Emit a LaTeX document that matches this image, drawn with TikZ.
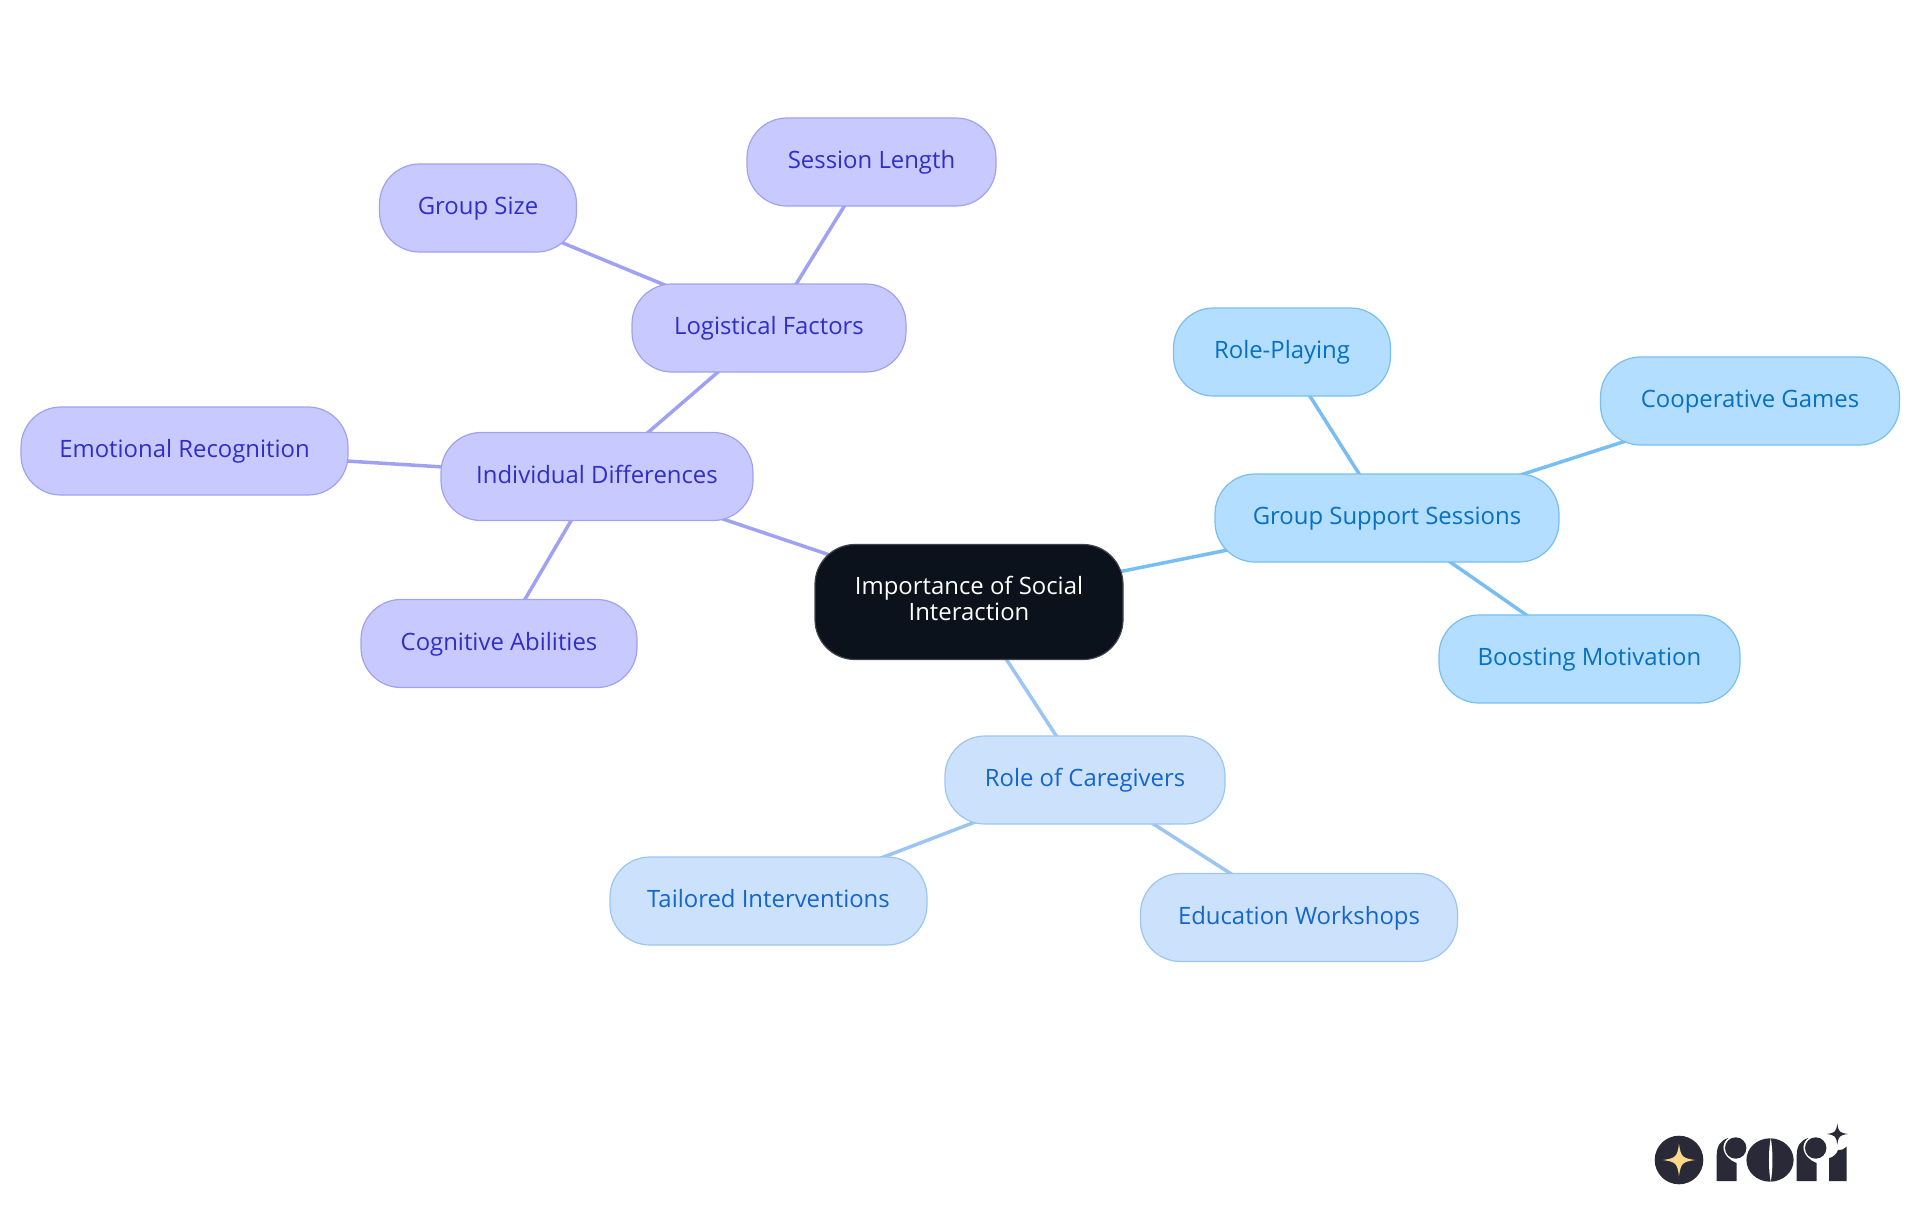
\documentclass[tikz,border=0pt]{standalone}
\usepackage{fontspec}
\setmainfont{Open Sans}
\usepackage{xcolor}
\definecolor{RootInk}{HTML}{0B121B}
\definecolor{RootEdge}{HTML}{3F444B}
\definecolor{VioletFill}{HTML}{C8C9FE}
\definecolor{VioletEdge}{HTML}{9FA2F3}
\definecolor{VioletText}{HTML}{2F2FC8}
\definecolor{SkyFill}{HTML}{B3DEFF}
\definecolor{SkyEdge}{HTML}{78BEF3}
\definecolor{SkyText}{HTML}{0570C4}
\definecolor{PaleFill}{HTML}{CCE2FC}
\definecolor{PaleEdge}{HTML}{9CC5F3}
\definecolor{PaleText}{HTML}{1465CC}
\definecolor{LogoInk}{HTML}{2A2937}
\definecolor{LogoStar}{HTML}{FBD98A}
\usepackage{tikz}
\usetikzlibrary{backgrounds, calc}
\tikzset{
  mapbox/.style={rectangle, rounded corners=40pt, line width=1.2pt, inner sep=0pt, minimum height=88pt, align=center, font=\fontsize{23.9}{26}\selectfont},
  rootbox/.style={mapbox, draw=RootEdge, fill=RootInk, text=white, minimum width=308pt, minimum height=115pt, text height=42pt, text depth=5.6pt},
  leafbox/.style={mapbox, text height=18pt, text depth=5pt},
  violetbox/.style={leafbox, draw=VioletEdge, fill=VioletFill, text=VioletText},
  skybox/.style={leafbox, draw=SkyEdge, fill=SkyFill, text=SkyText},
  palebox/.style={leafbox, draw=PaleEdge, fill=PaleFill, text=PaleText},
  violetline/.style={line width=3.5pt, VioletEdge},
  skyline/.style={line width=3.5pt, SkyEdge},
  paleline/.style={line width=3.5pt, PaleEdge},
  logofill/.style={fill=LogoInk, draw=none}
}
% four pointed star: centre, radius, colour
\newcommand{\logostar}[3]{
  \fill[#3] ($(#1)+(0,-#2)$) .. controls ($(#1)+(0.12*#2,-0.2*#2)$) and ($(#1)+(0.2*#2,-0.12*#2)$) .. ($(#1)+(#2,0)$)
    .. controls ($(#1)+(0.2*#2,0.12*#2)$) and ($(#1)+(0.12*#2,0.2*#2)$) .. ($(#1)+(0,#2)$)
    .. controls ($(#1)+(-0.12*#2,0.2*#2)$) and ($(#1)+(-0.2*#2,0.12*#2)$) .. ($(#1)+(-#2,0)$)
    .. controls ($(#1)+(-0.2*#2,-0.12*#2)$) and ($(#1)+(-0.12*#2,-0.2*#2)$) .. cycle;
}
% logo letter r, left edge of the stem given
\newcommand{\logor}[1]{
  \fill[logofill] (#1,1181) -- (#1,1155) .. controls (#1,1146) and (#1+4,1140) .. (#1+11.7,1138) .. controls (#1+4,1143) and (#1+4,1157) .. (#1+20,1163) -- (#1+20,1181) -- cycle;
  \fill[logofill] (#1+19,1148) circle[radius=10.7pt];
}
\begin{document}
\begin{tikzpicture}[x=1pt, y=-1pt]
  \useasboundingbox (0,0) rectangle (1920,1215);
  \node[rootbox] (root) at (969,602) {Importance of Social\\Interaction};
  % violet branch
  \node[violetbox, minimum width=312pt] (indiv) at (597,476.5) {Individual Differences};
  \node[violetbox, minimum width=327pt] (emotion) at (184.5,451) {Emotional Recognition};
  \node[violetbox, minimum width=276pt] (cognitive) at (499,643.5) {Cognitive Abilities};
  \node[violetbox, minimum width=274pt] (logistic) at (769,328) {Logistical Factors};
  \node[violetbox, minimum width=197pt] (groupsize) at (478,208) {Group Size};
  \node[violetbox, minimum width=249pt] (session) at (871.5,162) {Session Length};
  % sky branch
  \node[skybox, minimum width=344pt] (support) at (1387,518) {Group Support Sessions};
  \node[skybox, minimum width=217pt] (roleplay) at (1282,352) {Role-Playing};
  \node[skybox, minimum width=299pt] (games) at (1750,401) {Cooperative Games};
  \node[skybox, minimum width=301pt] (motivation) at (1589.5,659) {Boosting Motivation};
  % pale branch
  \node[palebox, minimum width=280pt] (carers) at (1085,780) {Role of Caregivers};
  \node[palebox, minimum width=317pt] (tailored) at (768.5,901) {Tailored Interventions};
  \node[palebox, minimum width=317pt] (workshops) at (1299,917.5) {Education Workshops};
  \begin{scope}[on background layer]
    \draw[violetline] (root.center) -- (indiv.center);
    \draw[violetline] (indiv.center) -- (emotion.center);
    \draw[violetline] (indiv.center) -- (cognitive.center);
    \draw[violetline] (indiv.center) -- (logistic.center);
    \draw[violetline] (logistic.center) -- (groupsize.center);
    \draw[violetline] (logistic.center) -- (session.center);
    \draw[skyline] (root.center) -- (support.center);
    \draw[skyline] (support.center) -- (roleplay.center);
    \draw[skyline] (support.center) -- (games.center);
    \draw[skyline] (support.center) -- (motivation.center);
    \draw[paleline] (root.center) -- (carers.center);
    \draw[paleline] (carers.center) -- (tailored.center);
    \draw[paleline] (carers.center) -- (workshops.center);
  \end{scope}
  % logo
  \fill[logofill] (1679,1160) circle[radius=24.3pt];
  \logostar{1679,1160}{16}{LogoStar}
  \logor{1716.7}
  \fill[logofill] (1770,1160) ellipse[x radius=23.6pt, y radius=21.7pt];
  \fill[white] (1770.7,1138) .. controls (1768.4,1150) and (1768.4,1170) .. (1770.7,1182) .. controls (1773,1170) and (1773,1150) .. cycle;
  \logor{1796.7}
  \fill[logofill] (1829,1181) -- (1829,1158) .. controls (1832,1158) and (1837,1154) .. (1838,1150) .. controls (1842,1150) and (1845,1149) .. (1846.7,1146.5) -- (1846.7,1181) -- cycle;
  \logostar{1837.3,1134}{10.5}{LogoInk}
\end{tikzpicture}
\end{document}
